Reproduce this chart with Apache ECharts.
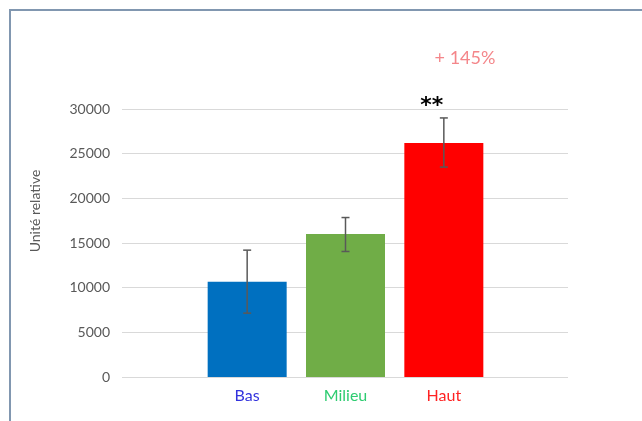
<!DOCTYPE html>
<html>
<head>
<meta charset="utf-8">
<script src="https://cdn.jsdelivr.net/npm/echarts@6/dist/echarts.min.js"></script>
<style>
  html, body { margin: 0; padding: 0; background: #fff; }
  #chart { width: 642px; height: 421px; }
</style>
</head>
<body>
<div id="chart"></div>
<script>
  // données
  const categories = ['Bas', 'Milieu', 'Haut'];
  const values = [10650, 16000, 26200];
  const errLow = [7150, 14050, 23500];
  const errHigh = [14200, 17850, 29000];
  const marks = ['', '', '**'];
  const barColors = ['#0070c0', '#70ad47', '#ff0000'];
  const labelColors = ['#3333dd', '#2ecc71', '#ff2222'];
  const yTicks = [0, 5000, 10000, 15000, 20000, 25000, 30000];

  const FONT = 'Lato, "Open Sans", sans-serif';
  const chart = echarts.init(document.getElementById('chart'));

  const option = {
    backgroundColor: '#fff',
    animation: false,
    grid: [
      { left: 122, right: 74, top: 109, bottom: 44 },
      { left: 198, width: 295, top: 109, bottom: 44 }
    ],
    xAxis: [
      { gridIndex: 0, type: 'value', show: false, min: 0, max: 1 },
      {
        gridIndex: 1,
        type: 'category',
        data: categories,
        axisLine: { show: false },
        axisTick: { show: false },
        axisLabel: {
          margin: 11,
          formatter: (v, i) => `{c${i}|${v}}`,
          rich: {
            c0: { color: labelColors[0], fontFamily: FONT, fontSize: 16 },
            c1: { color: labelColors[1], fontFamily: FONT, fontSize: 16 },
            c2: { color: labelColors[2], fontFamily: FONT, fontSize: 16 }
          }
        }
      }
    ],
    yAxis: [
      {
        gridIndex: 0,
        type: 'value',
        min: yTicks[0],
        max: yTicks[yTicks.length - 1],
        interval: yTicks[1] - yTicks[0],
        axisLine: { show: false },
        axisTick: { show: false },
        axisLabel: {
          color: '#595959', fontFamily: FONT, fontSize: 14, margin: 12,
          formatter: (v) => String(v)
        },
        splitLine: { lineStyle: { color: '#d9d9d9', width: 1 } }
      },
      {
        gridIndex: 1,
        type: 'value',
        show: false,
        min: yTicks[0],
        max: yTicks[yTicks.length - 1]
      }
    ],
    series: [
      {
        type: 'bar',
        xAxisIndex: 1,
        yAxisIndex: 1,
        barWidth: 79,
        z: 2,
        data: values.map((v, i) => ({ value: v, itemStyle: { color: barColors[i] } }))
      },
      {
        type: 'custom',
        xAxisIndex: 1,
        yAxisIndex: 1,
        z: 5,
        data: categories.map((c, i) => [i, errLow[i], errHigh[i]]),
        renderItem: function (params, api) {
          const lo = api.coord([api.value(0), api.value(1)]);
          const hi = api.coord([api.value(0), api.value(2)]);
          const cap = 4;
          const style = { stroke: '#595959', lineWidth: 1.5 };
          const children = [
            { type: 'line', shape: { x1: hi[0], y1: hi[1], x2: lo[0], y2: lo[1] }, style },
            { type: 'line', shape: { x1: hi[0] - cap, y1: hi[1], x2: hi[0] + cap, y2: hi[1] }, style },
            { type: 'line', shape: { x1: lo[0] - cap, y1: lo[1], x2: lo[0] + cap, y2: lo[1] }, style }
          ];
          const mark = marks[params.dataIndex];
          if (mark) {
            children.push({
              type: 'text',
              style: {
                x: hi[0] - 12,
                y: hi[1] - 12,
                text: mark,
                fill: '#000',
                font: 'bold 22px "DejaVu Sans", sans-serif',
                align: 'center',
                verticalAlign: 'middle'
              }
            });
          }
          return { type: 'group', children };
        }
      }
    ],
    graphic: [
      {
        type: 'rect',
        shape: { x: 10, y: 10, width: 700, height: 500 },
        style: { fill: 'none', stroke: '#8197b0', lineWidth: 2 },
        silent: true
      },
      {
        type: 'text',
        x: 35,
        y: 211,
        rotation: Math.PI / 2,
        style: {
          text: 'Unité relative',
          fill: '#595959',
          font: '14px ' + FONT,
          align: 'center',
          verticalAlign: 'middle'
        }
      },
      {
        type: 'text',
        x: 465,
        y: 58,
        style: {
          text: '+ 145%',
          fill: '#f4868a',
          font: '18px ' + FONT,
          align: 'center',
          verticalAlign: 'middle'
        }
      }
    ]
  };

  chart.setOption(option);
</script>
</body>
</html>
